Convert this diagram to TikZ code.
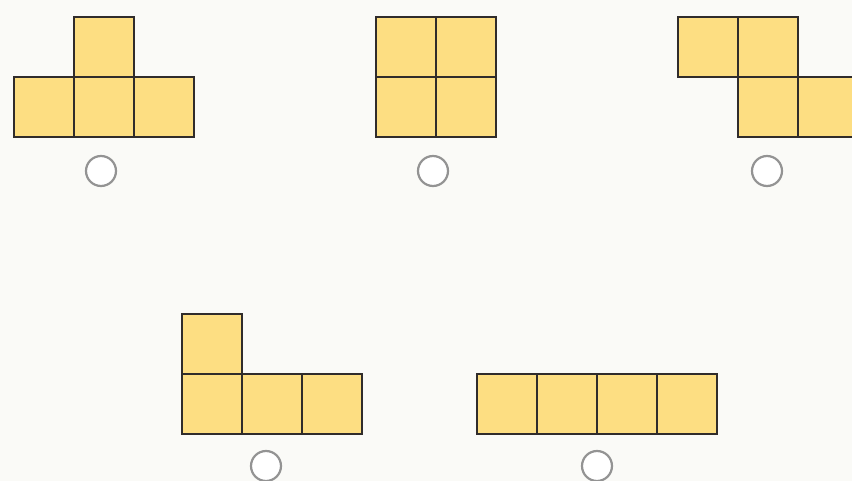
\documentclass[tikz,border=0pt]{standalone}
\begin{document}
\begin{tikzpicture}[x=1pt,y=-1pt,
  cell/.style={draw=black!85!yellow!40!black, fill=cellyellow, line width=2pt, minimum size=60pt, inner sep=0pt, outer sep=0pt, anchor=north west, rectangle},
  choice/.style={circle, draw=gray!85, fill=white, line width=2.2pt, minimum size=30pt, inner sep=0pt}]
\definecolor{cellyellow}{RGB}{253,222,130}
\definecolor{bg}{RGB}{250,250,247}
\useasboundingbox (0,0) rectangle (852,481);
\clip (0,0) rectangle (852,481);
\fill[bg] (0,0) rectangle (852,481);
% shape 1
\node[cell] (a1) at (74,17) {};
\node[cell] (a2) at (14,77) {};
\node[cell] (a3) at (74,77) {};
\node[cell] (a4) at (134,77) {};
\node[choice] (c1) at (101,171) {};
% shape 2
\node[cell] (b1) at (376,17) {};
\node[cell] (b2) at (436,17) {};
\node[cell] (b3) at (376,77) {};
\node[cell] (b4) at (436,77) {};
\node[choice] (c2) at (433,171) {};
% shape 3
\node[cell] (d1) at (678,17) {};
\node[cell] (d2) at (738,17) {};
\node[cell] (d3) at (738,77) {};
\node[cell] (d4) at (798,77) {};
\node[choice] (c3) at (767,171) {};
% shape 4
\node[cell] (e1) at (182,314) {};
\node[cell] (e2) at (182,374) {};
\node[cell] (e3) at (242,374) {};
\node[cell] (e4) at (302,374) {};
\node[choice] (c4) at (266,466) {};
% shape 5
\node[cell] (f1) at (477,374) {};
\node[cell] (f2) at (537,374) {};
\node[cell] (f3) at (597,374) {};
\node[cell] (f4) at (657,374) {};
\node[choice] (c5) at (597,466) {};
\end{tikzpicture}
\end{document}
